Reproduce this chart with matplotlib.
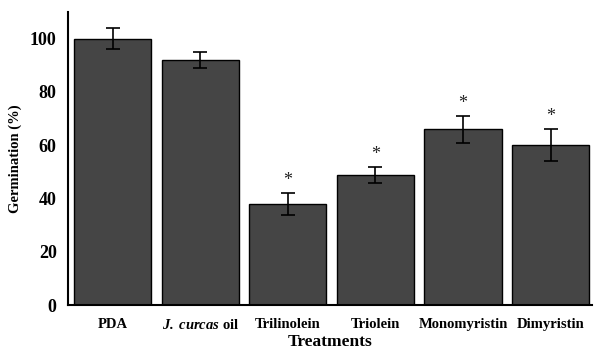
import numpy as np
import matplotlib
matplotlib.use("Agg")
import matplotlib.pyplot as plt

# data
treatments = ["PDA", "J. curcas oil", "Trilinolein", "Triolein", "Monomyristin", "Dimyristin"]
tick_labels = ["PDA", r"$\mathbfit{J.\ curcas}$ oil", "Trilinolein", "Triolein",
               "Monomyristin", "Dimyristin"]
germination = [100, 92, 38, 49, 66, 60]
errors = [4, 3, 4, 3, 5, 6]
significant = [False, False, True, True, True, True]

plt.rcParams['font.family'] = ['Liberation Serif', 'DejaVu Serif']
plt.rcParams['mathtext.fontset'] = 'custom'
plt.rcParams['mathtext.rm'] = 'Liberation Serif'
plt.rcParams['mathtext.it'] = 'Liberation Serif:italic'
plt.rcParams['mathtext.bf'] = 'Liberation Serif:bold'
plt.rcParams['mathtext.bfit'] = 'Liberation Serif:italic:bold'

fig = plt.figure(figsize=(5.95, 3.54), dpi=100)
ax = fig.add_axes([0.114, 0.138, 0.881, 0.828])

x = np.arange(len(treatments))
ax.bar(x, germination, width=0.88, color='#454545', edgecolor='black', linewidth=1.0,
       yerr=errors, capsize=5, error_kw=dict(elinewidth=1.2, capthick=1.2, ecolor='black'))

for xi, g, e, s in zip(x, germination, errors, significant):
    if s:
        ax.text(xi, g + e + 1.5, '*', ha='center', va='bottom', fontsize=13, color='#222222')

ax.set_xlim(-0.514, 5.474)
ax.set_ylim(0, 110)
ax.set_yticks([0, 20, 40, 60, 80, 100])
ax.tick_params(axis='y', length=0, labelsize=13, pad=8)
ax.tick_params(axis='x', length=0, labelsize=10.5, pad=9)
for lab in ax.get_yticklabels():
    lab.set_fontweight('bold')
ax.set_xticks(x)
ax.set_xticklabels(tick_labels, fontweight='bold')
ax.spines['top'].set_visible(False)
ax.spines['right'].set_visible(False)
ax.spines['left'].set_linewidth(1.5)
ax.spines['bottom'].set_linewidth(1.5)

ax.set_ylabel('Germination (%)', fontsize=10.5, fontweight='bold', labelpad=6)
ax.set_xlabel('Treatments', fontsize=12.5, fontweight='bold', labelpad=2)

fig.savefig('out.png', dpi=100)
